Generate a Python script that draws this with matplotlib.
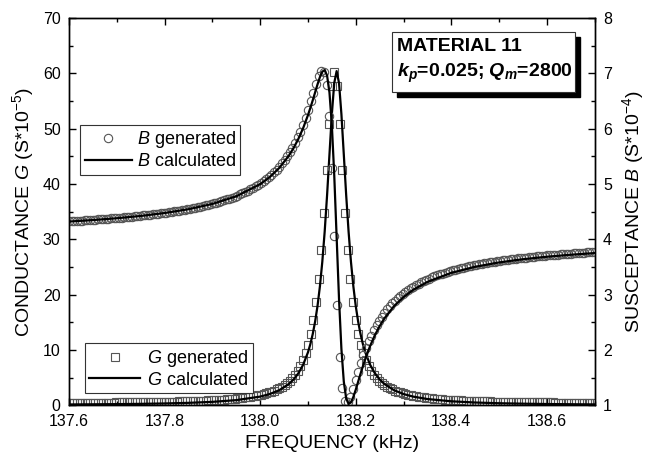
# -*- coding: utf-8 -*-

import numpy as np
import matplotlib
matplotlib.use('Agg')
import matplotlib.pyplot as plt
from matplotlib.lines import Line2D
from matplotlib.patches import Rectangle
from matplotlib.ticker import MultipleLocator, FormatStrFormatter

plt.rcParams['font.family'] = ['Liberation Sans', 'DejaVu Sans']
plt.rcParams['mathtext.fontset'] = 'custom'
plt.rcParams['mathtext.rm'] = 'Liberation Sans'
plt.rcParams['mathtext.it'] = 'Liberation Sans:italic'
plt.rcParams['mathtext.bf'] = 'Liberation Sans:bold'
plt.rcParams['mathtext.bfit'] = 'Liberation Sans:italic:bold'

# generated data: 201 samples between 137.6 and 138.7 kHz
freq_gen = np.linspace(137.6, 138.7, 201)

# conductance G generated (S*10^-5)
G_gen = [0.43, 0.43, 0.43, 0.43, 0.44, 0.44, 0.44, 0.45, 0.45, 0.45,
         0.46, 0.46, 0.46, 0.47, 0.47, 0.47, 0.48, 0.48, 0.49, 0.49,
         0.50, 0.50, 0.51, 0.51, 0.52, 0.52, 0.53, 0.54, 0.54, 0.55,
         0.56, 0.56, 0.57, 0.58, 0.59, 0.60, 0.60, 0.61, 0.62, 0.63,
         0.65, 0.66, 0.67, 0.68, 0.69, 0.71, 0.72, 0.74, 0.76, 0.77,
         0.79, 0.81, 0.83, 0.86, 0.88, 0.90, 0.93, 0.96, 0.99, 1.02,
         1.06, 1.10, 1.14, 1.18, 1.23, 1.28, 1.34, 1.40, 1.46, 1.53,
         1.61, 1.70, 1.80, 1.90, 2.02, 2.15, 2.30, 2.46, 2.64, 2.85,
         3.09, 3.36, 3.67, 4.03, 4.45, 4.95, 5.53, 6.23, 7.07, 8.09,
         9.35, 10.92, 12.88, 15.39, 18.60, 22.73, 28.04, 34.70, 42.59, 50.89,
         57.63, 60.30,
         57.63, 50.89, 42.59, 34.70, 28.04, 22.73, 18.60, 15.39, 12.88, 10.92,
         9.35, 8.09, 7.07, 6.23, 5.53, 4.95, 4.45, 4.03, 3.67, 3.36,
         3.09, 2.85, 2.64, 2.46, 2.30, 2.15, 2.02, 1.90, 1.80, 1.70,
         1.61, 1.53, 1.46, 1.40, 1.34, 1.28, 1.23, 1.18, 1.14, 1.10,
         1.06, 1.02, 0.99, 0.96, 0.93, 0.90, 0.88, 0.86, 0.83, 0.81,
         0.79, 0.77, 0.76, 0.74, 0.72, 0.71, 0.69, 0.68, 0.67, 0.66,
         0.65, 0.63, 0.62, 0.61, 0.60, 0.60, 0.59, 0.58, 0.57, 0.56,
         0.56, 0.55, 0.54, 0.54, 0.53, 0.52, 0.52, 0.51, 0.51, 0.50,
         0.50, 0.49, 0.49, 0.48, 0.48, 0.47, 0.47, 0.47, 0.46, 0.46,
         0.46, 0.45, 0.45, 0.45, 0.44, 0.44, 0.44, 0.43, 0.43]

# susceptance B generated (S*10^-4)
B_gen = [4.325, 4.328, 4.330, 4.333, 4.336, 4.339, 4.342, 4.345, 4.348, 4.352,
         4.355, 4.358, 4.362, 4.365, 4.369, 4.373, 4.376, 4.380, 4.384, 4.388,
         4.392, 4.397, 4.401, 4.405, 4.410, 4.415, 4.420, 4.424, 4.430, 4.435,
         4.440, 4.446, 4.451, 4.457, 4.463, 4.469, 4.476, 4.482, 4.489, 4.496,
         4.503, 4.511, 4.519, 4.527, 4.535, 4.543, 4.552, 4.561, 4.571, 4.581,
         4.591, 4.602, 4.613, 4.624, 4.636, 4.649, 4.662, 4.675, 4.690, 4.704,
         4.720, 4.736, 4.753, 4.771, 4.790, 4.810, 4.831, 4.853, 4.877, 4.901,
         4.928, 4.956, 4.985, 5.017, 5.051, 5.087, 5.126, 5.167, 5.212, 5.261,
         5.313, 5.370, 5.432, 5.499, 5.573, 5.654, 5.743, 5.841, 5.948, 6.067,
         6.197, 6.340, 6.493, 6.653, 6.812, 6.953, 7.041, 7.018, 6.787, 6.232,
         5.287, 4.050,
         2.813, 1.868, 1.313, 1.082, 1.059, 1.147, 1.288, 1.447, 1.607, 1.760,
         1.903, 2.033, 2.152, 2.259, 2.357, 2.446, 2.527, 2.601, 2.668, 2.730,
         2.787, 2.839, 2.888, 2.933, 2.974, 3.013, 3.049, 3.083, 3.115, 3.144,
         3.172, 3.199, 3.223, 3.247, 3.269, 3.290, 3.310, 3.329, 3.347, 3.364,
         3.380, 3.396, 3.410, 3.425, 3.438, 3.451, 3.464, 3.476, 3.487, 3.498,
         3.509, 3.519, 3.529, 3.539, 3.548, 3.557, 3.565, 3.573, 3.581, 3.589,
         3.597, 3.604, 3.611, 3.618, 3.624, 3.631, 3.637, 3.643, 3.649, 3.654,
         3.660, 3.665, 3.670, 3.676, 3.680, 3.685, 3.690, 3.695, 3.699, 3.703,
         3.708, 3.712, 3.716, 3.720, 3.724, 3.727, 3.731, 3.735, 3.738, 3.742,
         3.745, 3.748, 3.752, 3.755, 3.758, 3.761, 3.764, 3.767, 3.770]

# calculated curves
freq_calc = [137.6, 137.65, 137.7, 137.75, 137.8, 137.85, 137.9, 137.95, 138.0,
             138.02, 138.04, 138.06, 138.07, 138.08, 138.09, 138.1,
             138.105, 138.11, 138.115, 138.12, 138.125, 138.13, 138.135, 138.14,
             138.145, 138.15, 138.155, 138.16, 138.165, 138.17, 138.175, 138.18,
             138.185, 138.19, 138.195, 138.2, 138.205, 138.21, 138.215, 138.22,
             138.23, 138.24, 138.25, 138.26, 138.28, 138.3, 138.32,
             138.35, 138.4, 138.45, 138.5, 138.55, 138.6, 138.65, 138.7]

G_calc = [0.13, 0.16, 0.19, 0.24, 0.31, 0.42, 0.60, 0.91, 1.55,
          2.01, 2.71, 3.83, 4.65, 5.77, 7.32, 9.55,
          11.03, 12.86, 15.12, 17.94, 21.48, 25.91, 31.39, 37.95,
          45.32, 52.62, 58.25, 60.40, 58.25, 52.62, 45.32, 37.95,
          31.39, 25.91, 21.48, 17.94, 15.12, 12.86, 11.03, 9.55,
          7.32, 5.77, 4.65, 3.83, 2.71, 2.01, 1.55,
          1.11, 0.70, 0.48, 0.35, 0.27, 0.21, 0.17, 0.14]

B_calc = [4.320, 4.347, 4.380, 4.421, 4.474, 4.543, 4.638, 4.776, 4.996,
          5.124, 5.290, 5.511, 5.651, 5.816, 6.011, 6.244,
          6.374, 6.512, 6.656, 6.800, 6.931, 7.030, 7.058, 6.959,
          6.654, 6.064, 5.160, 4.040, 2.920, 2.016, 1.426, 1.121,
          1.022, 1.050, 1.149, 1.280, 1.424, 1.568, 1.706, 1.836,
          2.069, 2.264, 2.429, 2.569, 2.790, 2.956, 3.084,
          3.229, 3.393, 3.503, 3.581, 3.639, 3.684, 3.720, 3.750]

mk_col = '#555555'
ms_o = 6.0
ms_s = 6.0

fig = plt.figure(figsize=(6.45, 4.62), dpi=100)
ax = fig.add_axes([0.107, 0.123, 0.815, 0.838])
ax2 = ax.twinx()

# G on left axis
ax.plot(freq_gen, G_gen, 's', mfc='none', mec=mk_col, ms=ms_s, mew=0.8)
ax.plot(freq_calc, G_calc, '-', color='k', lw=1.6)

# B on right axis
ax2.plot(freq_gen, B_gen, 'o', mfc='none', mec=mk_col, ms=ms_o, mew=0.8)
ax2.plot(freq_calc, B_calc, '-', color='k', lw=1.6)

ax.set_xlim(137.6, 138.7)
ax.set_ylim(0, 70)
ax2.set_ylim(1, 8)

ax.xaxis.set_major_locator(MultipleLocator(0.2))
ax.xaxis.set_minor_locator(MultipleLocator(0.1))
ax.xaxis.set_major_formatter(FormatStrFormatter('%.1f'))
ax.yaxis.set_major_locator(MultipleLocator(10))
ax.yaxis.set_minor_locator(MultipleLocator(5))
ax2.yaxis.set_major_locator(MultipleLocator(1))
ax2.yaxis.set_minor_locator(MultipleLocator(0.5))

ax.tick_params(axis='x', which='both', direction='in', top=True, labelsize=11.5, pad=6)
ax.tick_params(axis='y', which='both', direction='in', right=False, labelsize=11.5, pad=6)
ax2.tick_params(axis='y', which='both', direction='in', labelsize=11.5, pad=6)
for a in (ax, ax2):
    a.tick_params(which='major', length=5, width=1)
    a.tick_params(which='minor', length=3, width=1)
    for s in a.spines.values():
        s.set_linewidth(1.0)

ax.set_xlabel('FREQUENCY (kHz)', fontsize=14, labelpad=5)
ax.set_ylabel(r'CONDUCTANCE $\it{G}$ (S*10$^{-5}$)', fontsize=14, labelpad=5)
ax2.set_ylabel(r'SUSCEPTANCE $\it{B}$ (S*10$^{-4}$)', fontsize=14, labelpad=6)

# legends
hB1 = Line2D([], [], marker='o', ls='none', mfc='none', mec=mk_col, ms=ms_o, mew=0.8)
hB2 = Line2D([], [], color='k', lw=1.6)
hG1 = Line2D([], [], marker='s', ls='none', mfc='none', mec=mk_col, ms=ms_s, mew=0.8)
hG2 = Line2D([], [], color='k', lw=1.6)

leg1 = ax2.legend([hB1, hB2], [r'$\it{B}$ generated', r'$\it{B}$ calculated'],
                  loc='upper left', bbox_to_anchor=(0.021, 0.724), borderaxespad=0,
                  fontsize=13, handlelength=2.6, handletextpad=0.3,
                  labelspacing=0.15, borderpad=0.25, fancybox=False,
                  edgecolor='#333333', framealpha=1)
leg1.get_frame().set_linewidth(0.8)
ax2.add_artist(leg1)
leg2 = ax2.legend([hG1, hG2], [r'$\it{G}$ generated', r'$\it{G}$ calculated'],
                  loc='lower left', bbox_to_anchor=(0.030, 0.031), borderaxespad=0,
                  fontsize=13, handlelength=2.8, handletextpad=0.4,
                  labelspacing=0.15, borderpad=0.25, fancybox=False,
                  edgecolor='#333333', framealpha=1)
leg2.get_frame().set_linewidth(0.8)

# text box with shadow
bx, by, bw, bh = 0.614, 0.809, 0.348, 0.155
ax2.add_patch(Rectangle((bx + 0.0095, by - 0.013), bw, bh, transform=ax2.transAxes,
                        facecolor='k', edgecolor='k', zorder=5, clip_on=False))
ax2.add_patch(Rectangle((bx, by), bw, bh, transform=ax2.transAxes,
                        facecolor='white', edgecolor='#333333', lw=0.8, zorder=6,
                        clip_on=False))
ax2.text(0.624, 0.926, 'MATERIAL 11', transform=ax2.transAxes, fontsize=14,
         fontweight='bold', va='center', ha='left', zorder=7)
ax2.text(0.624, 0.856, r'$\mathbfit{k}_\mathbfit{p}$=0.025; $\mathbfit{Q}_\mathbfit{m}$=2800',
         transform=ax2.transAxes, fontsize=14, fontweight='bold', va='center',
         ha='left', zorder=7)

fig.savefig('out.png', dpi=100)
